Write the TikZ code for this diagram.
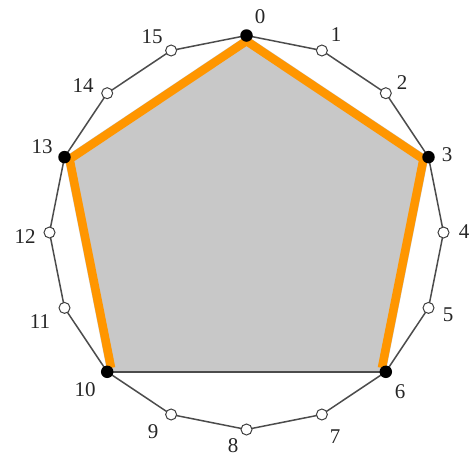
\documentclass[tikz,border=0pt]{standalone}
\usepackage{fontspec}
\setmainfont{Liberation Serif}
\usetikzlibrary{calc}
\definecolor{fillgray}{RGB}{200,200,200}
\definecolor{orng}{RGB}{255,150,0}
\begin{document}
\begin{tikzpicture}[x=1pt,y=-1pt,
  open/.style={circle,draw=black!75,fill=white,line width=1pt,inner sep=0pt,minimum size=11pt},
  filled/.style={circle,fill=black,inner sep=0pt,minimum size=12.5pt},
  lbl/.style={font=\fontsize{21}{21}\selectfont,inner sep=0pt,text=black!85},
  rim/.style={draw=black!70,line width=1.5pt},
  hull/.style={draw=orng,line width=8.5pt,line cap=butt,line join=miter}]
\useasboundingbox (0,0) rectangle (469,456);
\coordinate (c) at (246.5,232.5);
\foreach \k in {0,...,15}{
  \coordinate (p\k) at ({246.5+197*sin(22.5*\k)},{232.5-197*cos(22.5*\k)});
}
\foreach \k in {0,3,6,10,13}{
  \coordinate (q\k) at ($(p\k)!5.5pt!(c)$);
}
% shaded pentagon
\fill[fillgray] (p0) -- (p3) -- (p6) -- (p10) -- (p13) -- cycle;
% rim of the 16-gon
\foreach \k [evaluate=\k as \n using {int(mod(\k+1,16))}] in {0,...,15}{
  \draw[rim] (p\k) -- (p\n);
}
\draw[rim] (p6) -- (p10);
% orange hull edges
\draw[hull] (q10) -- (q13) -- (q0) -- (q3) -- (q6);
% vertices
\foreach \k in {1,2,4,5,7,8,9,11,12,14,15}{
  \node[open] (v\k) at (p\k) {};
}
\foreach \k in {0,3,6,10,13}{
  \node[filled] (v\k) at (p\k) {};
}
% labels
\node[lbl] (l0) at (260,17) {0};
\node[lbl] (l1) at (336,35) {1};
\node[lbl] (l2) at (402,83) {2};
\node[lbl] (l3) at (447,155) {3};
\node[lbl] (l4) at (464,232) {4};
\node[lbl] (l5) at (448,315) {5};
\node[lbl] (l6) at (400,392) {6};
\node[lbl] (l7) at (335,437) {7};
\node[lbl] (l8) at (233,446) {8};
\node[lbl] (l9) at (153,432) {9};
\node[lbl] (l10) at (85,390) {10};
\node[lbl] (l11) at (40,322) {11};
\node[lbl] (l12) at (25,237) {12};
\node[lbl] (l13) at (42,147) {13};
\node[lbl] (l14) at (83,86) {14};
\node[lbl] (l15) at (152,37) {15};
\end{tikzpicture}
\end{document}
